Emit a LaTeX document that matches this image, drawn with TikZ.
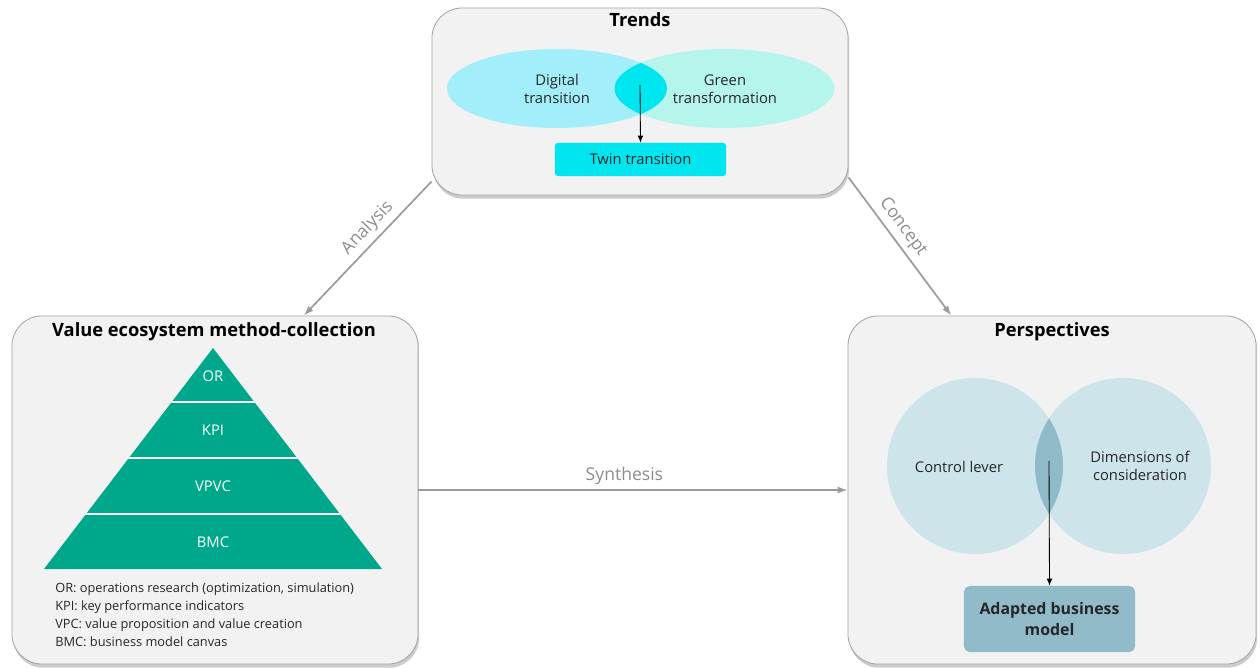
\documentclass[tikz,border=0pt]{standalone}
\usepackage{fontspec}
\setmainfont{Open Sans}
\usetikzlibrary{
    positioning,
    arrows.meta,
    shadows,
    calc
}

\definecolor{panelfill}{HTML}{F2F2F2}
\definecolor{panelline}{HTML}{A3A3A3}
\definecolor{flowgray}{HTML}{9A9A9A}
\definecolor{labelgray}{HTML}{8C8C8C}
\definecolor{digitalcyan}{HTML}{A3EEFB}
\definecolor{greenmint}{HTML}{B5F5EB}
\definecolor{twincyan}{HTML}{00E6F0}
\definecolor{pyrgreen}{HTML}{00A88B}
\definecolor{venblue}{HTML}{CDE4EA}
\definecolor{venblue dark}{HTML}{8FBAC8}
\definecolor{abmblue}{HTML}{92BBCA}

\begin{document}
\begin{tikzpicture}[
    x=0.025cm, y=-0.025cm,
    >={Latex[length=7pt,width=5pt]},
    % Estilos de Paneles
    panel/.style={rectangle, rounded corners=0.75cm, draw=panelline, fill=panelfill,
        line width=0.6pt, drop shadow={shadow xshift=0.8pt, shadow yshift=-2.6pt, fill=black!40}},
    paneltitle/.style={font=\fontsize{13}{15}\selectfont\bfseries},
    venntext/.style={align=center, font=\fontsize{10.5}{13}\selectfont, text=black!85},
    pyrtext/.style={font=\fontsize{10.5}{13}\selectfont, text=white},
    % Estilos de Flechas
    flow/.style={->, line width=1.2pt, draw=flowgray},
    flowlabel/.style={font=\fontsize{12.5}{14}\selectfont, text=labelgray},
    inner/.style={-{Latex[length=5pt,width=4pt]}, line width=0.6pt, draw=black}
]
\useasboundingbox (0,0) rectangle (1260,668);

% --- Paneles ---
\node[panel, minimum width=10.4cm, minimum height=4.675cm] (trends) at (640,101.5) {};
\node[panel, minimum width=10.15cm, minimum height=8.7cm] (methods) at (215,490) {};
\node[panel, minimum width=10.2cm, minimum height=8.7cm] (persp) at (1052,490) {};

\node[paneltitle] (trends_title) at (640,20) {Trends};
\node[paneltitle] (methods_title) at (214,332) {Value ecosystem method-collection};
\node[paneltitle] (persp_title) at (1052,332) {Perspectives};

% === Trends (Digital + Green) ===
\fill[digitalcyan] (557,88.5) ellipse [x radius=110, y radius=39.5];
\fill[greenmint] (724.5,88.5) ellipse [x radius=110, y radius=39.5];
\begin{scope}
    \clip (557,88.5) ellipse [x radius=110, y radius=39.5];
    \fill[twincyan] (724.5,88.5) ellipse [x radius=110, y radius=39.5];
\end{scope}
\node[venntext] (digital) at (557,89) {Digital\\transition};
\node[venntext] (green) at (725,89) {Green\\transformation};
\node[venntext, fill=twincyan, rounded corners=2pt, minimum width=4.275cm,
      minimum height=0.825cm] (twin) at (640.5,159.5) {Twin transition};
\coordinate (twin_src) at (640,85);
\draw[inner] (twin_src) -- (twin.north);

% === Piramide de Metodos ===
\fill[pyrgreen] (213,348) -- (382,569) -- (44,569) -- cycle;
\begin{scope}
    \clip (213,348) -- (382,569) -- (44,569) -- cycle;
    \foreach \ly in {402,458,514}
        \draw[white, line width=1.4pt] (30,\ly) -- (400,\ly);
\end{scope}
\node[pyrtext] (or) at (213,376) {OR};
\node[pyrtext] (kpi) at (213,430) {KPI};
\node[pyrtext] (vpvc) at (213,486) {VPVC};
\node[pyrtext] (bmc) at (213,542) {BMC};

\node[anchor=north west, align=left, inner sep=0pt,
      font=\fontsize{9.1}{12.8}\selectfont, text=black!85] (legend) at (55,582)
    {OR: operations research (optimization, simulation)\\
     KPI: key performance indicators\\
     VPC: value proposition and value creation\\
     BMC: business model canvas};

% === Perspectivas ===
\fill[venblue] (975,466) circle [radius=88];
\fill[venblue] (1123,466) circle [radius=88];
\begin{scope}
    \clip (975,466) circle [radius=88];
    \fill[venblue dark] (1123,466) circle [radius=88];
\end{scope}
\node[venntext] (lever) at (959,467) {Control lever};
\node[venntext] (dims) at (1140,466) {Dimensions of\\consideration};
\node[venntext, font=\fontsize{11.3}{15}\selectfont\bfseries, fill=abmblue, rounded corners=4pt,
      minimum width=4.275cm, minimum height=1.65cm] (abm) at (1049.5,619) {Adapted business\\model};
\coordinate (abm_src) at (1049,461);
\draw[inner] (abm_src) -- (abm.north);

% --- Flechas entre Paneles ---
\draw[flow, <-] (methods.63.4) -- node[pos=0.58, sloped, above, flowlabel] {Analysis} (trends.201);
\draw[flow] (trends.340.3) -- node[pos=0.42, sloped, above, flowlabel] {Concept} (persp.120.1);
\draw[flow] (methods.east) -- node[pos=0.48, above, flowlabel] {Synthesis} (persp.west);

\end{tikzpicture}
\end{document}
